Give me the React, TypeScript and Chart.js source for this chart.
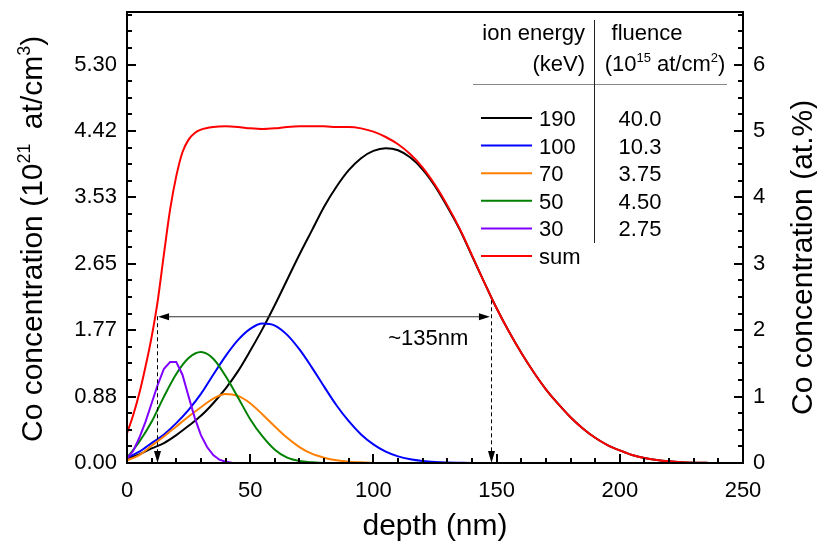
import React, { useEffect, useRef } from 'react';
import { Chart, registerables } from 'chart.js';

Chart.register(...registerables);

const FONT = "'Liberation Sans', Arial, Helvetica, sans-serif";

// depth grids (nm)
const depth = [0, 5, 10, 15, 20, 25, 30, 35, 40, 45, 50, 55, 60, 65, 70, 75, 80, 85, 90, 95, 100, 105, 110, 115, 120, 125, 130, 135, 140, 145, 150, 155, 160, 165, 170, 175, 180, 185, 190, 195, 200, 205, 210, 215, 220, 225, 230, 235, 240, 245, 250];
const sumDepth = [0, 2.5, 5, 7.5, 10, 12.5, 15, 17.5, 20, 22.5, 25, 27.5, 30, 35, 40, 45, 50, 55, 60, 65, 70, 75, 80, 85, 90, 95, 100, 105, 110, 115, 120, 125, 130, 135, 140, 145, 150, 155, 160, 165, 170, 175, 180, 185, 190, 195, 200, 205, 210, 215, 220, 225, 230, 235, 240, 245, 250];
const purpleDepth = [0, 2.5, 5, 7.5, 10, 12.5, 15, 17.5, 20, 22.5, 25, 27.5, 30, 32.5, 35, 37.5, 40, 42.5, 45, 50];

// Co concentration (at.%)
const conc190 = [0.07, 0.13, 0.22, 0.3, 0.42, 0.56, 0.71, 0.9, 1.12, 1.38, 1.69, 2.02, 2.38, 2.76, 3.14, 3.5, 3.86, 4.16, 4.41, 4.59, 4.7, 4.74, 4.71, 4.6, 4.42, 4.17, 3.86, 3.52, 3.12, 2.72, 2.33, 1.98, 1.66, 1.37, 1.11, 0.89, 0.69, 0.52, 0.38, 0.27, 0.19, 0.12, 0.075, 0.045, 0.025, 0.012, 0.005, 0.002, 0, 0, 0];
const conc100 = [0.08, 0.17, 0.3, 0.43, 0.6, 0.8, 1.04, 1.33, 1.61, 1.85, 2.02, 2.1, 2.07, 1.93, 1.71, 1.44, 1.15, 0.87, 0.63, 0.43, 0.28, 0.17, 0.1, 0.056, 0.03, 0.015, 0.007, 0.003, 0, 0, 0, 0, 0, 0, 0, 0, 0, 0, 0, 0, 0, 0, 0, 0, 0, 0, 0, 0, 0, 0, 0];
const conc70 = [0.04, 0.12, 0.26, 0.4, 0.55, 0.7, 0.84, 0.97, 1.04, 1.01, 0.9, 0.73, 0.55, 0.38, 0.24, 0.14, 0.08, 0.04, 0.02, 0.01, 0, 0, 0, 0, 0, 0, 0, 0, 0, 0, 0, 0, 0, 0, 0, 0, 0, 0, 0, 0, 0, 0, 0, 0, 0, 0, 0, 0, 0, 0, 0];
const conc50 = [0.08, 0.32, 0.62, 1.0, 1.34, 1.58, 1.67, 1.57, 1.31, 0.99, 0.66, 0.4, 0.2, 0.08, 0.03, 0.01, 0, 0, 0, 0, 0, 0, 0, 0, 0, 0, 0, 0, 0, 0, 0, 0, 0, 0, 0, 0, 0, 0, 0, 0, 0, 0, 0, 0, 0, 0, 0, 0, 0, 0, 0];
const conc30 = [0.07, 0.18, 0.38, 0.62, 0.9, 1.18, 1.42, 1.52, 1.52, 1.33, 1.0, 0.68, 0.42, 0.24, 0.12, 0.05, 0.02, 0.005, 0, 0];
const concSum = [0.45, 0.72, 1.05, 1.45, 1.9, 2.45, 3.15, 3.82, 4.32, 4.68, 4.87, 4.97, 5.02, 5.06, 5.07, 5.06, 5.04, 5.03, 5.04, 5.06, 5.07, 5.07, 5.07, 5.06, 5.06, 5.04, 4.99, 4.91, 4.8, 4.65, 4.45, 4.19, 3.88, 3.53, 3.13, 2.72, 2.33, 1.98, 1.66, 1.37, 1.11, 0.89, 0.69, 0.52, 0.38, 0.27, 0.19, 0.12, 0.075, 0.045, 0.025, 0.012, 0.005, 0.002, 0, 0, 0];

// legend table
const energies = ['190', '100', '70', '50', '30', 'sum'];
const fluences = ['40.0', '10.3', '3.75', '4.50', '2.75'];
const seriesColors = ['#000000', '#0000ff', '#ff8000', '#008000', '#8000ff', '#ff0000'];

// axes
const xTicks = [0, 50, 100, 150, 200, 250];
const atTicks = [0, 1, 2, 3, 4, 5, 6];
const AT_TO_CONC = 5.3 / 6; // 10^21 at/cm^3 per at.%
const Y_MAX = 6.0 / AT_TO_CONC;

// FWHM annotation
const fwhmLeft = 12.2;
const fwhmRight = 147.7;
const fwhmArrowY = 2.21;
const fwhmRightTopY = 2.45;
const fwhmLabel = '~135nm';
const fwhmLabelX = 106;
const fwhmLabelY = 1.78;

type Part = [string, boolean];

function drawRich(ctx: CanvasRenderingContext2D, parts: Part[], x: number, y: number, size: number, align: 'left' | 'center' | 'right') {
  const supSize = Math.round(size * 0.6);
  let total = 0;
  for (const [t, sup] of parts) {
    ctx.font = `${sup ? supSize : size}px ${FONT}`;
    total += ctx.measureText(t).width;
  }
  let cx = align === 'center' ? x - total / 2 : align === 'right' ? x - total : x;
  ctx.textAlign = 'left';
  ctx.textBaseline = 'alphabetic';
  for (const [t, sup] of parts) {
    ctx.font = `${sup ? supSize : size}px ${FONT}`;
    ctx.fillText(t, cx, sup ? y - size * 0.4 : y);
    cx += ctx.measureText(t).width;
  }
}

function arrowHead(ctx: CanvasRenderingContext2D, tx: number, ty: number, dx: number, dy: number, len = 11, half = 3.5) {
  const bx = tx - dx * len, by = ty - dy * len;
  const px = -dy, py = dx;
  ctx.beginPath();
  ctx.moveTo(tx, ty);
  ctx.lineTo(bx + px * half, by + py * half);
  ctx.lineTo(bx - px * half, by - py * half);
  ctx.closePath();
  ctx.fill();
}

const decorPlugin = {
  id: 'decor',
  afterDatasetsDraw(chart: any) {
    const { ctx, chartArea: a, scales } = chart;
    const x = scales.x, y = scales.y;
    ctx.save();

    // FWHM annotation
    const xl = x.getPixelForValue(fwhmLeft);
    const xr = x.getPixelForValue(fwhmRight);
    const ya = y.getPixelForValue(fwhmArrowY);
    const yrt = y.getPixelForValue(fwhmRightTopY);
    const y0 = y.getPixelForValue(0);
    ctx.strokeStyle = '#333';
    ctx.fillStyle = '#000';
    ctx.lineWidth = 1;
    ctx.beginPath();
    ctx.moveTo(xl + 8, ya + 0.5);
    ctx.lineTo(xr - 8, ya + 0.5);
    ctx.stroke();
    arrowHead(ctx, xl + 1, ya + 0.5, -1, 0);
    arrowHead(ctx, xr - 1, ya + 0.5, 1, 0);
    ctx.setLineDash([4, 3]);
    ctx.strokeStyle = '#000';
    ctx.beginPath();
    ctx.moveTo(Math.round(xl) + 0.5, ya);
    ctx.lineTo(Math.round(xl) + 0.5, y0 - 8);
    ctx.moveTo(Math.round(xr) + 0.5, yrt);
    ctx.lineTo(Math.round(xr) + 0.5, y0 - 8);
    ctx.stroke();
    ctx.setLineDash([]);
    arrowHead(ctx, Math.round(xl) + 0.5, y0, 0, 1, 12, 3.5);
    arrowHead(ctx, Math.round(xr) + 0.5, y0, 0, 1, 12, 3.5);
    ctx.font = `22px ${FONT}`;
    ctx.textAlign = 'left';
    ctx.textBaseline = 'alphabetic';
    ctx.fillText(fwhmLabel, x.getPixelForValue(fwhmLabelX), y.getPixelForValue(fwhmLabelY));

    // frame
    ctx.strokeStyle = '#000';
    ctx.lineWidth = 2;
    ctx.strokeRect(a.left, a.top, a.right - a.left, a.bottom - a.top);

    // ticks (inward)
    ctx.lineWidth = 2;
    ctx.beginPath();
    const nY = Math.floor(Y_MAX / 0.25 + 1e-6);
    for (let i = 0; i <= nY; i++) {
      const py = Math.round(y.getPixelForValue(i * 0.25));
      const len = i % 4 === 0 ? 9 : 5;
      ctx.moveTo(a.left, py);
      ctx.lineTo(a.left + len, py);
      ctx.moveTo(a.right, py);
      ctx.lineTo(a.right - len, py);
    }
    for (let i = 0; i <= 25; i++) {
      const px = Math.round(x.getPixelForValue(i * 10));
      const len = i % 5 === 0 ? 9 : 5;
      ctx.moveTo(px, a.bottom);
      ctx.lineTo(px, a.bottom - len);
    }
    ctx.stroke();

    // legend table
    const L = a.left, T = a.top;
    ctx.fillStyle = '#000';
    ctx.font = `22px ${FONT}`;
    ctx.textBaseline = 'alphabetic';
    ctx.textAlign = 'right';
    ctx.fillText('ion energy', L + 458, T + 28);
    ctx.fillText('(keV)', L + 458, T + 59);
    ctx.textAlign = 'center';
    ctx.fillText('fluence', L + 520, T + 28);
    drawRich(ctx, [['(10', false], ['15', true], [' at/cm', false], ['2', true], [')', false]], L + 538, T + 59, 22, 'center');
    ctx.lineWidth = 1;
    ctx.strokeStyle = '#888';
    ctx.beginPath();
    ctx.moveTo(L + 346, T + 72.5);
    ctx.lineTo(L + 600, T + 72.5);
    ctx.stroke();
    ctx.strokeStyle = '#222';
    ctx.beginPath();
    ctx.moveTo(L + 467.5, T + 8);
    ctx.lineTo(L + 467.5, T + 231);
    ctx.stroke();
    ctx.lineWidth = 2;
    energies.forEach((e, i) => {
      const ry = T + 106 + i * 27.6;
      ctx.strokeStyle = seriesColors[i];
      ctx.beginPath();
      ctx.moveTo(L + 354, ry);
      ctx.lineTo(L + 405, ry);
      ctx.stroke();
      ctx.fillStyle = '#000';
      ctx.font = `22px ${FONT}`;
      ctx.textAlign = 'left';
      ctx.fillText(e, L + 412, ry + 8);
      if (i < fluences.length) {
        ctx.textAlign = 'center';
        ctx.fillText(fluences[i], L + 513, ry + 8);
      }
    });

    // axis titles
    ctx.fillStyle = '#000';
    ctx.save();
    ctx.translate(42, 442);
    ctx.rotate(-Math.PI / 2);
    drawRich(ctx, [['Co concentration (10', false], ['21', true], ['\u2009 at/cm', false], ['3', true], [')', false]], 0, 0, 30, 'left');
    ctx.restore();
    ctx.save();
    ctx.translate(812, 415);
    ctx.rotate(-Math.PI / 2);
    drawRich(ctx, [['Co concentration (at.%)', false]], 0, 0, 30, 'left');
    ctx.restore();
    drawRich(ctx, [['depth (nm)', false]], (a.left + a.right) / 2, 535, 30, 'center');

    ctx.restore();
  },
};

const mk = (xs: number[], ys: number[]) => ys.map((v, i) => ({ x: xs[i], y: v }));

const noPad = (s: any) => {
  s.paddingTop = 0;
  s.paddingBottom = 0;
};

export default function App() {
  const ref = useRef<HTMLCanvasElement | null>(null);
  useEffect(() => {
    if (!ref.current) return;
    const common = { borderWidth: 2, pointRadius: 0, fill: false, cubicInterpolationMode: 'monotone' as const, yAxisID: 'y' };
    const chart = new Chart(ref.current, {
      type: 'line',
      data: {
        datasets: [
          { ...common, label: 'sum', data: mk(sumDepth, concSum), borderColor: seriesColors[5] },
          { ...common, label: '30', data: mk(purpleDepth, conc30), borderColor: seriesColors[4], cubicInterpolationMode: 'default', tension: 0 },
          { ...common, label: '50', data: mk(depth, conc50), borderColor: seriesColors[3] },
          { ...common, label: '70', data: mk(depth, conc70), borderColor: seriesColors[2] },
          { ...common, label: '100', data: mk(depth, conc100), borderColor: seriesColors[1] },
          { ...common, label: '190', data: mk(depth, conc190), borderColor: seriesColors[0] },
        ],
      },
      options: {
        animation: false,
        responsive: false,
        maintainAspectRatio: false,
        events: [],
        layout: { padding: { top: 12, left: 0, right: 0, bottom: 0 } },
        plugins: { legend: { display: false }, tooltip: { enabled: false }, title: { display: false } },
        scales: {
          x: {
            type: 'linear',
            position: 'bottom',
            min: 0,
            max: 250,
            afterBuildTicks: (s: any) => { s.ticks = xTicks.map((v) => ({ value: v })); },
            afterFit: (s: any) => { s.height = 86; s.paddingLeft = 0; s.paddingRight = 0; },
            grid: { display: false, drawTicks: false },
            border: { display: false },
            ticks: { color: '#000', font: { family: FONT, size: 22 }, padding: 15, maxRotation: 0, autoSkip: false },
          },
          y: {
            type: 'linear',
            position: 'left',
            min: 0,
            max: Y_MAX,
            afterBuildTicks: (s: any) => { s.ticks = atTicks.map((v) => ({ value: v })); },
            afterFit: (s: any) => { s.width = 127; noPad(s); },
            grid: { display: false, drawTicks: false },
            border: { display: false },
            ticks: { color: '#000', font: { family: FONT, size: 22 }, padding: 10, autoSkip: false, callback: (v: any) => (Number(v) * AT_TO_CONC).toFixed(2) },
          },
          y2: {
            type: 'linear',
            position: 'right',
            min: 0,
            max: Y_MAX,
            afterBuildTicks: (s: any) => { s.ticks = atTicks.map((v) => ({ value: v })); },
            afterFit: (s: any) => { s.width = 74; noPad(s); },
            grid: { display: false, drawTicks: false },
            border: { display: false },
            ticks: { color: '#000', font: { family: FONT, size: 22 }, padding: 10, autoSkip: false, callback: (v: any) => String(v) },
          },
        },
      },
      plugins: [decorPlugin],
    });
    return () => chart.destroy();
  }, []);
  return (
    <div style={{ position: 'fixed', left: 0, top: 0, width: 817, height: 549, background: '#fff' }}>
      <canvas ref={ref} width={817} height={549} style={{ display: 'block' }} />
    </div>
  );
}
